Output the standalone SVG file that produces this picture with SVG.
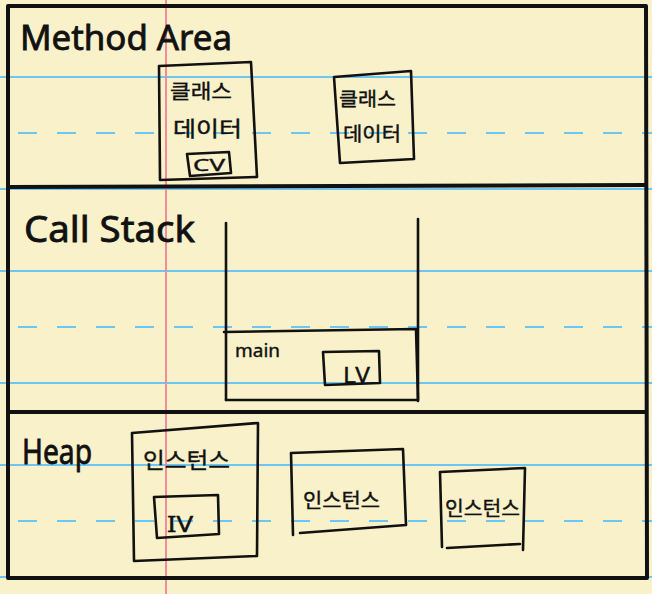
<svg xmlns="http://www.w3.org/2000/svg" width="652" height="594" viewBox="0 0 652 594">
<style>
.bg{fill:#F9F1C9}
.solid{stroke:#6CC6F2;stroke-width:2;fill:none}
.dash{stroke:#6CC6F2;stroke-width:2;fill:none;stroke-dasharray:19 20}
.margin{stroke:#F28C9C;stroke-width:2}
.frame{stroke:#111;stroke-width:4;fill:none;stroke-linejoin:round}
.box{stroke:#111;stroke-width:2.6;fill:none;stroke-linejoin:round;stroke-linecap:round}
.title{font-family:"Noto Sans","Liberation Sans",sans-serif;fill:#111;stroke:#111;stroke-width:0.8}
.ko{font-family:"Noto Sans CJK KR","Noto Sans",sans-serif;fill:#111;stroke:#111;stroke-width:0.4}
.lbl{font-family:"Noto Sans","Liberation Sans",sans-serif;fill:#111;stroke:#111;stroke-width:0.4}
</style>
<rect class="bg" x="0" y="0" width="652" height="594"/>
<g id="paper-lines">
<line class="solid" x1="0" y1="77" x2="652" y2="77"/>
<line class="dash" x1="18" y1="133" x2="652" y2="133"/>
<line class="solid" x1="0" y1="189" x2="652" y2="189"/>
<line class="solid" x1="0" y1="271" x2="652" y2="271"/>
<line class="dash" x1="18" y1="327" x2="652" y2="327"/>
<line class="solid" x1="0" y1="383" x2="652" y2="383"/>
<line class="solid" x1="0" y1="465" x2="652" y2="465"/>
<line class="dash" x1="18" y1="521" x2="652" y2="521"/>
<line class="solid" x1="0" y1="577" x2="652" y2="577"/>
<line class="margin" x1="166" y1="0" x2="166" y2="594"/>
</g>
<g id="frame">
<path class="frame" d="M8,6 L646,6 L647,578 L8,578 Z"/>
<line class="frame" x1="8" y1="187" x2="647" y2="185"/>
<line class="frame" x1="8" y1="412" x2="647" y2="412"/>
</g>
<g id="method-area">
<text class="title" x="20" y="50" font-size="34" textLength="212" lengthAdjust="spacingAndGlyphs">Method Area</text>
</g>
<g id="class-data-1">
<path class="box" d="M159,66 L251,62 L257,177 L160,180 Z"/>
<text class="ko" x="170" y="99" font-size="20" textLength="62" lengthAdjust="spacingAndGlyphs">클래스</text>
<text class="ko" x="173" y="136" font-size="21" textLength="69" lengthAdjust="spacingAndGlyphs">데이터</text>
<g id="cv">
<path class="box" d="M187,154 L229,152 L231,173 L190,176 Z"/>
<text class="lbl" x="193" y="171" font-size="17" textLength="32" lengthAdjust="spacingAndGlyphs">CV</text>
</g>
</g>
<g id="class-data-2">
<path class="box" d="M334,77 L411,71 L414,159 L340,163 Z"/>
<text class="ko" x="339" y="106" font-size="19" textLength="57" lengthAdjust="spacingAndGlyphs">클래스</text>
<text class="ko" x="343" y="141" font-size="19" textLength="58" lengthAdjust="spacingAndGlyphs">데이터</text>
</g>
<g id="call-stack">
<text class="title" x="24" y="242" font-size="36" textLength="171" lengthAdjust="spacingAndGlyphs">Call Stack</text>
</g>
<g id="stack">
<line class="box" x1="226" y1="223" x2="226" y2="400"/>
<line class="box" x1="418" y1="219" x2="418" y2="401"/>
</g>
<g id="main-frame">
<path class="box" d="M224,332 L416,329 L418,400 L226,400"/>
<text class="lbl" x="235" y="357" font-size="18" textLength="45" lengthAdjust="spacingAndGlyphs">main</text>
<g id="lv">
<path class="box" d="M323,352 L379,351 L380,383 L325,385 Z"/>
<text class="lbl" x="343" y="383" font-size="22" textLength="27" lengthAdjust="spacingAndGlyphs">LV</text>
</g>
</g>
<g id="heap">
<text class="title" x="22" y="464" font-size="34" textLength="70" lengthAdjust="spacingAndGlyphs">Heap</text>
</g>
<g id="instance-1">
<path class="box" d="M132,433 L258,423 L257,556 L134,561 Z"/>
<text class="ko" x="143" y="468" font-size="22" textLength="87" lengthAdjust="spacingAndGlyphs">인스턴스</text>
<g id="iv">
<path class="box" d="M154,497 L218,495 L219,534 L157,538 Z"/>
<text class="lbl" x="167" y="532" font-size="21" textLength="26" lengthAdjust="spacingAndGlyphs">IV</text>
</g>
</g>
<g id="instance-2">
<path class="box" d="M291,453 L403,449 L406,525 L300,533 M291,453 L293,535"/>
<text class="ko" x="303" y="508" font-size="20" textLength="77" lengthAdjust="spacingAndGlyphs">인스턴스</text>
</g>
<g id="instance-3">
<path class="box" d="M440,472 L525,468 L523,550 M440,472 L442,547 M447,548 L520,544"/>
<text class="ko" x="445" y="516" font-size="20" textLength="75" lengthAdjust="spacingAndGlyphs">인스턴스</text>
</g>
</svg>
